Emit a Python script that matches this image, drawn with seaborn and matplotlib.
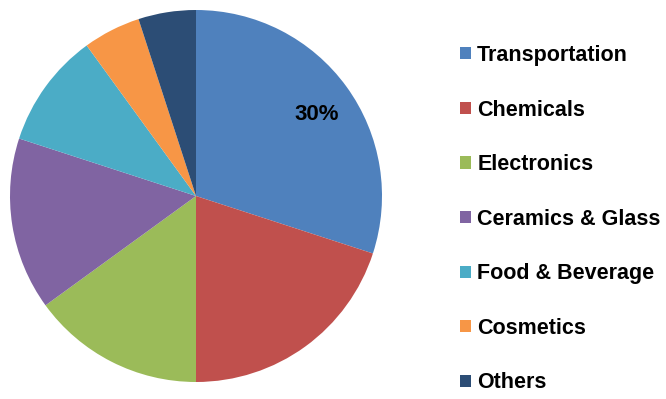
import matplotlib
matplotlib.use("Agg")
import matplotlib.pyplot as plt
import seaborn as sns
from matplotlib.patches import Patch

categories = ["Transportation", "Chemicals", "Electronics", "Ceramics & Glass",
              "Food & Beverage", "Cosmetics", "Others"]
shares = [30, 20, 15, 15, 10, 5, 5]
colors_hex = ["#4F81BD", "#C0504D", "#9BBB59", "#8064A2", "#4BACC6", "#F79646", "#2C4D75"]

sns.set_theme(style="white")
plt.rcParams['font.family'] = ['Liberation Sans', 'DejaVu Sans']
plt.rcParams['text.color'] = 'black'

palette = sns.color_palette(colors_hex)

fig = plt.figure(figsize=(6.66, 3.99), dpi=100)
ax = fig.add_axes([10/666, (399-196-186)/399, 372/666, 372/399])

wedges, texts, autotexts = ax.pie(
    shares, colors=palette, startangle=90, counterclock=False,
    autopct=lambda p: f"{p:.0f}%" if p > 25 else "",
    pctdistance=0.8, radius=1.0,
    textprops=dict(fontsize=16, fontweight="bold", color="black"),
    wedgeprops=dict(linewidth=0))
for t in autotexts:
    x, y = t.get_position()
    t.set_position((x, y - 0.03))
ax.set_xlim(-1, 1)
ax.set_ylim(-1, 1)
ax.set_aspect("equal")
ax.axis("off")

handles = [Patch(facecolor=c, edgecolor="none") for c in palette]
leg = fig.legend(handles, categories, loc="upper left", bbox_to_anchor=(460/666, 1 - 45/399),
                 frameon=False, handlelength=0.5, handleheight=0.5, handletextpad=0.3,
                 labelspacing=1.56, borderpad=0, borderaxespad=0,
                 prop=dict(size=15.5, weight="bold"))
for t in leg.get_texts():
    t.set_color("black")

fig.savefig("out.png", dpi=100)
